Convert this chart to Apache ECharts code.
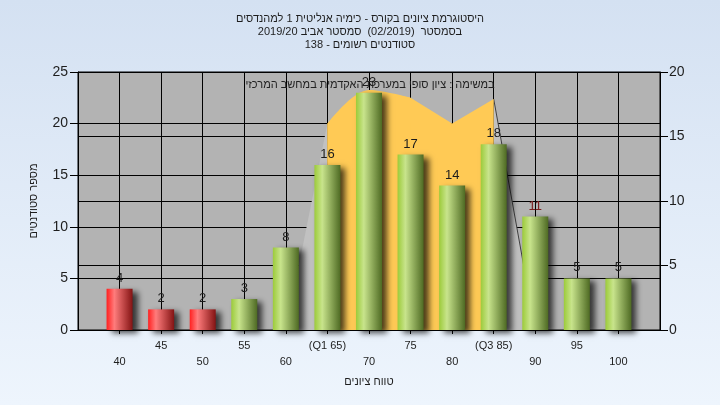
<!DOCTYPE html>
<html>
<head>
<meta charset="utf-8">
<script src="https://cdn.jsdelivr.net/npm/echarts@6/dist/echarts.min.js"></script>
<style>
html,body{margin:0;padding:0;width:720px;height:405px;overflow:hidden;}
#chart{width:720px;height:405px;}
</style>
</head>
<body>
<div id="chart"></div>
<script>
// ---- data ----
// each title line: segments in visual order, left to right (right-to-left reading)
const titleLines = [
  ['היסטוגרמת ציונים בקורס - כימיה אנליטית 1 למהנדסים'],
  ['2019/20 ', 'סמסטר אביב', '  (02/2019)  ', 'בסמסטר'],
  ['138 - ', 'סטודנטים רשומים']
];
const noteText = 'במשימה : ציון סופי במערכת האקדמית במחשב המרכזי';
const xAxisTitle = 'טווח ציונים';
const yAxisTitle = 'מספר סטודנטים';
const grades = [40, 45, 50, 55, 60, 65, 70, 75, 80, 85, 90, 95, 100];
const gradeLabels = ['40', '45', '50', '55', '60', '(Q1 65)', '70', '75', '80', '(Q3 85)', '90', '95', '100'];
const counts = [4, 2, 2, 3, 8, 16, 23, 17, 14, 18, 11, 5, 5];
const passGrade = 55;
// background distribution shape (right axis)
const quartileX = [65, 70, 75, 80, 85];
const quartileY = [16, 18.6, 18.0, 16, 17.9];
const leftTailX = [60, 65];
const leftTailY = [0, 16];
const rightTailX = [85, 90];
const rightTailY = [17.9, 0];

// ---- chart ----
const FONT = 'Arial, "Liberation Sans", "DejaVu Sans", sans-serif';
const greenGrad = {type:'linear',x:0,y:0,x2:1,y2:0,colorStops:[
  {offset:0,color:'#9ccb3a'},{offset:0.3,color:'#c8e48c'},{offset:1,color:'#4e6a23'}]};
const redGrad = {type:'linear',x:0,y:0,x2:1,y2:0,colorStops:[
  {offset:0,color:'#ff2020'},{offset:0.3,color:'#ff7c7c'},{offset:1,color:'#831313'}]};

const barData = grades.map((g, i) => ({
  value: [g, counts[i]],
  itemStyle: { color: g < passGrade ? redGrad : greenGrad },
  label: { color: counts[i] === 11 ? '#7a1e1e' : '#1c1c1c' }
}));
const zip = (xs, ys) => xs.map((x, i) => [x, ys[i]]);
const quart = zip(quartileX, quartileY);

const titleStyle = { fontSize: 11, fontWeight: 'normal', color: '#1e1e1e', lineHeight: 13, fontFamily: FONT };
const titles = titleLines.map((segs, i) => ({
  text: segs.map(s => '{s|' + s + '}').join(''),
  left: 'center', top: 12 + i * 13, padding: 0,
  textStyle: Object.assign({}, titleStyle, { rich: { s: titleStyle } })
}));
titles.push({ text: noteText, left: 370, top: 78, padding: 0, textAlign: 'center',
  textStyle: { fontSize: 11, fontWeight: 'normal', color: '#222', lineHeight: 13, fontFamily: FONT } });

const chart = echarts.init(document.getElementById('chart'), null, {renderer:'canvas'});
chart.setOption({
  animation: false,
  backgroundColor: {type:'linear',x:0,y:0,x2:0,y2:1,colorStops:[
    {offset:0,color:'#d4e1f2'},{offset:1,color:'#eef5fd'}]},
  textStyle: { fontFamily: FONT },
  title: titles,
  grid: { left: 78, right: 60, top: 72, bottom: 75, show: true,
          backgroundColor: '#b3b3b3', borderColor: '#000', borderWidth: 1 },
  xAxis: {
    type: 'value', min: 35, max: 105, interval: 5,
    name: xAxisTitle, nameLocation: 'middle', nameGap: 46,
    nameTextStyle: { fontSize: 11, color: '#1e1e1e', fontFamily: FONT },
    axisLine: { show: true, lineStyle: { color: '#000' } },
    axisTick: { show: true, length: 4, lineStyle: { color: '#000' } },
    splitLine: { show: true, lineStyle: { color: '#000', width: 1 } },
    axisLabel: {
      fontSize: 11, color: '#1e1e1e', margin: 8, lineHeight: 16, fontFamily: FONT,
      showMinLabel: false, showMaxLabel: false,
      formatter: v => {
        const i = grades.indexOf(v);
        if (i < 0) return '';
        return i % 2 === 1 ? gradeLabels[i] : '\n' + gradeLabels[i];
      }
    }
  },
  yAxis: [
    { type: 'value', min: 0, max: 25, interval: 5, position: 'left',
      name: yAxisTitle, nameLocation: 'middle', nameGap: 39, nameRotate: 90,
      nameTextStyle: { fontSize: 11, color: '#1e1e1e', fontFamily: FONT },
      axisLine: { show: true, lineStyle: { color: '#000' } },
      axisTick: { show: true, length: 8, lineStyle: { color: '#000' } },
      splitLine: { show: true, lineStyle: { color: '#000', width: 1 } },
      axisLabel: { fontSize: 14, color: '#1e1e1e', margin: 10, fontFamily: FONT } },
    { type: 'value', min: 0, max: 20, interval: 5, position: 'right',
      axisLine: { show: true, lineStyle: { color: '#000' } },
      axisTick: { show: true, length: 8, lineStyle: { color: '#000' } },
      splitLine: { show: true, lineStyle: { color: '#000', width: 1 } },
      axisLabel: { fontSize: 14, color: '#1e1e1e', margin: 9, fontFamily: FONT } }
  ],
  series: [
    { type: 'line', yAxisIndex: 1, data: zip(leftTailX, leftTailY), symbol: 'none',
      lineStyle: { width: 0 }, areaStyle: { color: '#c1c1c1', opacity: 1 }, z: 1, silent: true },
    { type: 'line', yAxisIndex: 1, data: zip(rightTailX, rightTailY), symbol: 'none',
      lineStyle: { width: 1, color: '#404040' }, areaStyle: { color: '#c1c1c1', opacity: 1 }, z: 1, silent: true },
    { type: 'line', yAxisIndex: 1, data: quart, symbol: 'none', smooth: false,
      lineStyle: { width: 0 }, areaStyle: { color: '#ffca55', opacity: 1 }, z: 2, silent: true },
    { type: 'line', yAxisIndex: 1, data: quart.slice(0, 3), symbol: 'none', smooth: 0.35,
      lineStyle: { width: 0 }, areaStyle: { color: '#ffca55', opacity: 1 }, z: 2, silent: true },
    { type: 'bar', yAxisIndex: 0, data: barData, barWidth: 26, z: 4,
      itemStyle: { shadowBlur: 6, shadowOffsetX: 5, shadowOffsetY: 3, shadowColor: 'rgba(0,0,0,0.7)' },
      label: { show: true, position: 'top', distance: 4, fontSize: 13, fontFamily: FONT } }
  ]
});
</script>
</body>
</html>
